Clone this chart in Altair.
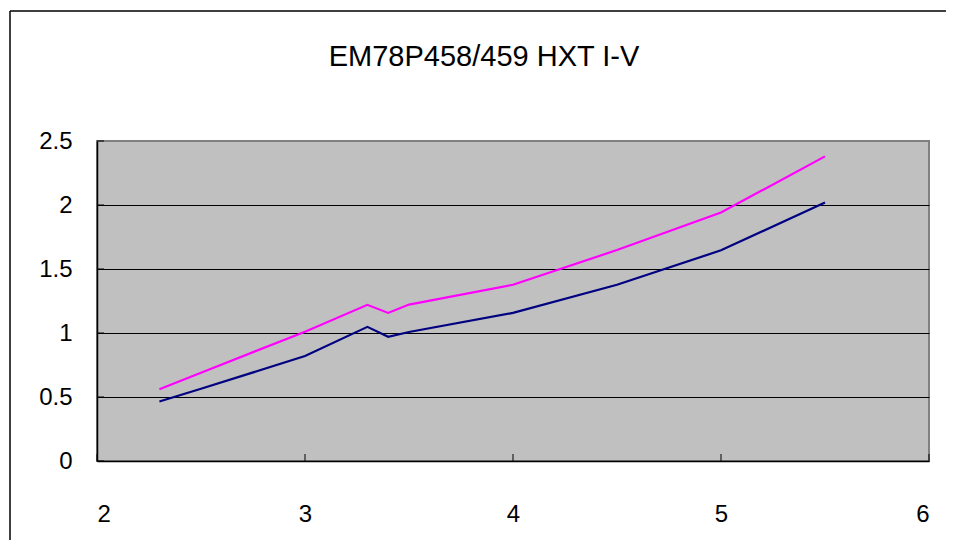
import altair as alt
import pandas as pd

# Data
voltage = [2.3, 2.5, 3.0, 3.3, 3.4, 3.5, 4.0, 4.5, 5.0, 5.5]
series_pink = [0.56, 0.69, 1.01, 1.22, 1.157, 1.222, 1.377, 1.648, 1.941, 2.38]
series_navy = [0.465, 0.564, 0.82, 1.048, 0.97, 1.008, 1.157, 1.377, 1.646, 2.02]
series_names = ["Series1", "Series2"]
x_ticks = [2, 3, 4, 5, 6]
y_ticks = [0, 0.5, 1, 1.5, 2, 2.5]

FONT = "Liberation Sans"

rows = []
for v, a, b in zip(voltage, series_pink, series_navy):
    rows.append({"V": v, "I": a, "series": series_names[0]})
    rows.append({"V": v, "I": b, "series": series_names[1]})
df = pd.DataFrame(rows)

xscale = alt.Scale(domain=[2, 6], nice=False, zero=False)
yscale = alt.Scale(domain=[0, 2.5], nice=False)

grid_color = {"condition": {"test": "datum.value == 0 || datum.value == 2.5", "value": "transparent"}, "value": "black"}

lines = alt.Chart(df).mark_line(strokeWidth=2.2).encode(
    x=alt.X("V:Q", scale=xscale, title=None,
            axis=alt.Axis(values=x_ticks, grid=False, ticks=False, tickSize=0,
                          domainColor="black", domainWidth=1.5,
                          labelFont=FONT, labelFontSize=24, labelColor="black",
                          labelPadding=41, labelExpr="toString(datum.value)")),
    y=alt.Y("I:Q", scale=yscale, title=None,
            axis=alt.Axis(values=y_ticks, grid=True, gridColor=grid_color, gridWidth=1,
                          ticks=False, tickSize=0, domainColor="black", domainWidth=1.5,
                          labelFont=FONT, labelFontSize=24, labelColor="black",
                          labelPadding=25, labelExpr="toString(datum.value)")),
    color=alt.Color("series:N", scale=alt.Scale(domain=series_names, range=["#FF00FF", "#000080"]),
                    legend=None),
)

xt = alt.Chart(pd.DataFrame({"t": x_ticks})).mark_rule(color="black", strokeWidth=1).encode(
    x=alt.X("t:Q", scale=xscale), y=alt.value(320), y2=alt.value(313)
)
yt = alt.Chart(pd.DataFrame({"t": y_ticks})).mark_rule(color="black", strokeWidth=1).encode(
    y=alt.Y("t:Q", scale=yscale), x=alt.value(0), x2=alt.value(7)
)

frame_top = alt.Chart(pd.DataFrame({"a": [0]})).mark_rule(color="black", strokeWidth=1.5).encode(
    x=alt.value(-87), x2=alt.value(849), y=alt.value(-130)
)
frame_left = alt.Chart(pd.DataFrame({"a": [0]})).mark_rule(color="black", strokeWidth=1.5).encode(
    x=alt.value(-87), y=alt.value(-130), y2=alt.value(460)
)

chart = alt.layer(frame_top, frame_left, xt, yt, lines).properties(
    width=832, height=320,
    autosize="none",
    padding={"left": 89, "top": 133, "right": 17, "bottom": 79},
    title=alt.Title("EM78P458/459 HXT I-V", font=FONT, fontSize=29, fontWeight="normal",
                    color="black", anchor="middle", dx=-29, dy=62, offset=0),
).configure(
    background="white"
).configure_view(
    fill="#C0C0C0", stroke="#808080", strokeWidth=2
)

chart.save("out.html", embed_options={"renderer": "svg", "actions": False})
